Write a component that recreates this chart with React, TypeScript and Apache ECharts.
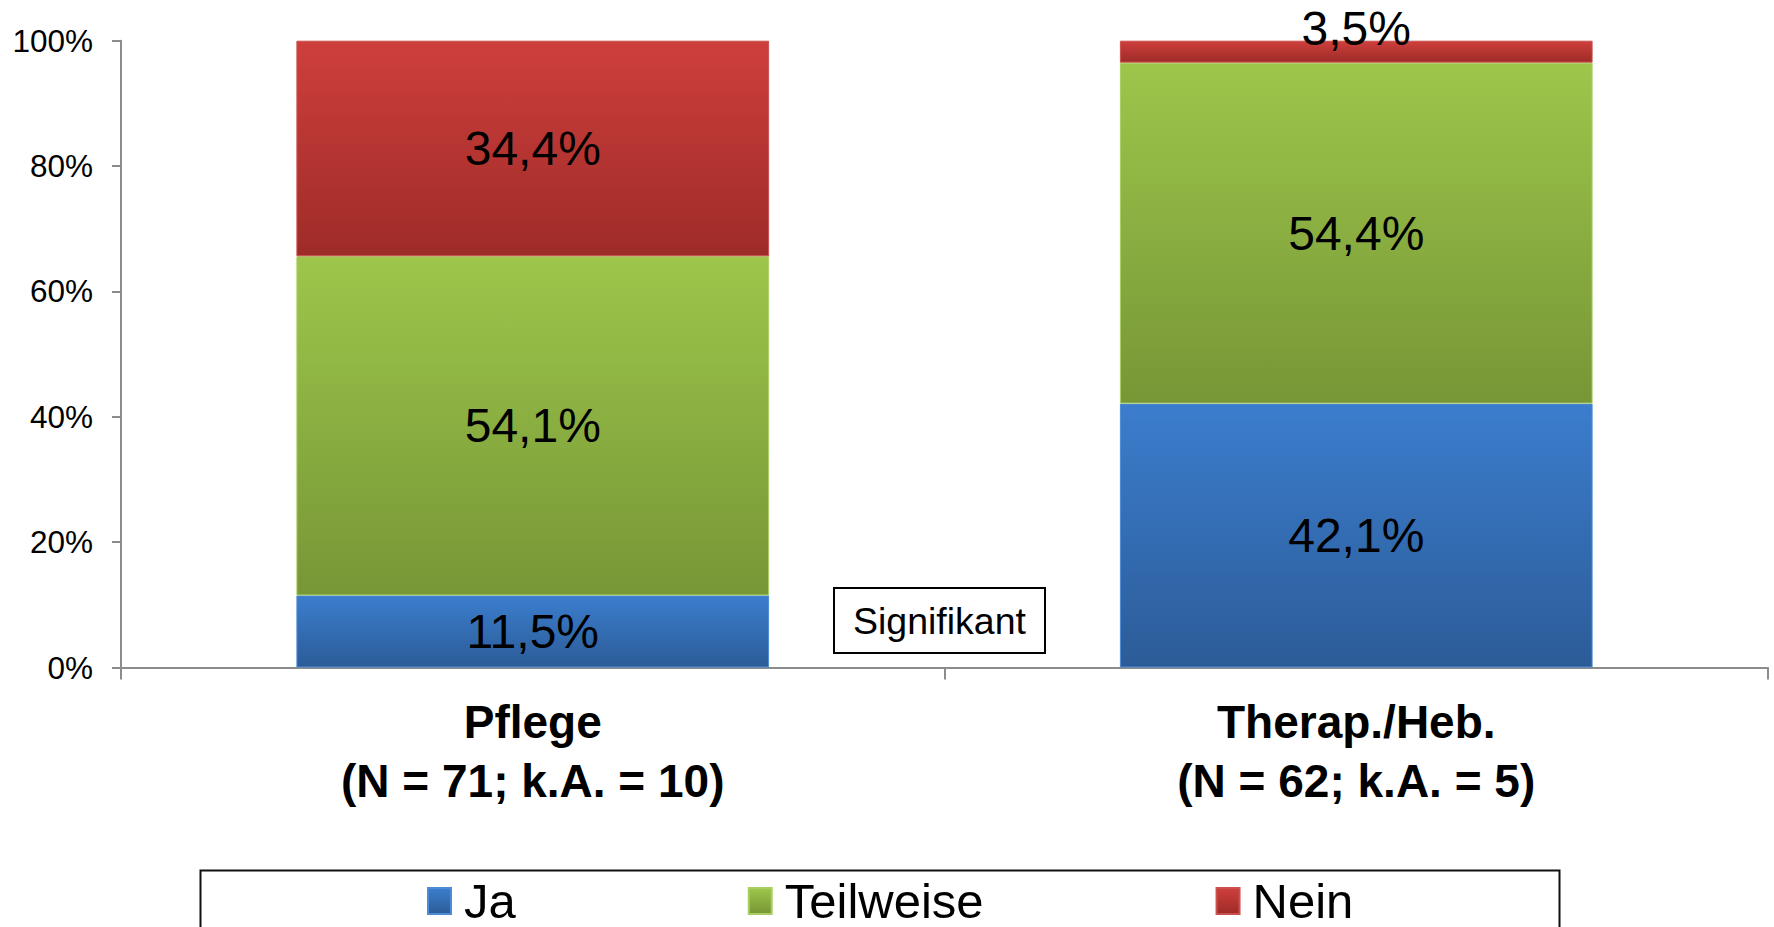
import React, { useEffect, useRef } from "react";
import * as echarts from "echarts";

const categories = ["Pflege\n(N = 71; k.A. = 10)", "Therap./Heb.\n(N = 62; k.A. = 5)"];
const jaValues = [11.5, 42.1];
const teilweiseValues = [54.1, 54.4];
const neinValues = [34.4, 3.5];
const yTicks = [0, 20, 40, 60, 80, 100];
const seriesNames = ["Ja", "Teilweise", "Nein"];
const annotationText = "Signifikant";

const FONT = "'Liberation Sans', Arial, Helvetica, sans-serif";

function grad(top: string, bottom: string) {
  return new echarts.graphic.LinearGradient(0, 0, 0, 1, [
    { offset: 0, color: top },
    { offset: 1, color: bottom },
  ]);
}

const fmt = (v: number) => v.toFixed(1).replace(".", ",") + "%";

export default function App() {
  const ref = useRef<HTMLDivElement>(null);
  useEffect(() => {
    if (!ref.current) return;
    const chart = echarts.init(ref.current, undefined, { renderer: "svg" });
    const labelBase = {
      show: true,
      position: "inside" as const,
      color: "#000",
      fontSize: 48,
      fontFamily: FONT,
      formatter: (p: any) => fmt(Number(p.value)),
    };
    const common = {
      type: "bar" as const,
      stack: "total",
      barCategoryGap: "42.6%",
      label: labelBase,
    };
    chart.setOption({
      animation: false,
      backgroundColor: "#fff",
      textStyle: { fontFamily: FONT },
      grid: { left: 121, right: 6, top: 40.7, bottom: 259.5, containLabel: false },
      xAxis: {
        type: "category",
        data: categories,
        axisLine: { show: true, lineStyle: { color: "#8c8c8c", width: 2 } },
        axisTick: { show: true, length: 12, lineStyle: { color: "#8c8c8c", width: 2 } },
        axisLabel: {
          color: "#000",
          fontSize: 46,
          fontWeight: "bold",
          fontFamily: FONT,
          lineHeight: 59,
          margin: 25,
          interval: 0,
        },
      },
      yAxis: {
        type: "value",
        min: yTicks[0],
        max: yTicks[yTicks.length - 1],
        interval: 20,
        splitLine: { show: false },
        axisLine: { show: true, lineStyle: { color: "#8c8c8c", width: 2 } },
        axisTick: { show: true, inside: false, length: 9, lineStyle: { color: "#8c8c8c", width: 2 } },
        axisLabel: {
          color: "#000",
          fontSize: 31.5,
          fontFamily: FONT,
          margin: 28,
          formatter: "{value}%",
        },
      },
      legend: {
        data: seriesNames,
        left: 422,
        top: 871,
        icon: "rect",
        itemWidth: 23,
        itemHeight: 26,
        itemGap: 232,
        textStyle: {
          color: "#000",
          fontSize: 49,
          fontFamily: FONT,
          lineHeight: 50,
          padding: [0, 0, 0, 8],
        },
      },
      graphic: [
        {
          type: "rect",
          left: 198,
          top: 868,
          shape: { width: 1359, height: 120 },
          style: { fill: "none", stroke: "#111", lineWidth: 2 },
          z: 0,
        },
        {
          type: "group",
          left: 833,
          top: 587,
          children: [
            {
              type: "rect",
              shape: { x: 0, y: 0, width: 211, height: 65 },
              style: { fill: "#fff", stroke: "#000", lineWidth: 2 },
            },
            {
              type: "text",
              x: 105.5,
              y: 33,
              style: {
                text: annotationText,
                fontSize: 37.5,
                fontFamily: FONT,
                fill: "#000",
                align: "center",
                verticalAlign: "middle",
              },
            },
          ],
        },
      ],
      series: [
        {
          ...common,
          name: seriesNames[0],
          data: jaValues,
          itemStyle: { color: grad("#3b7dcd", "#2c5c98"), borderColor: "#4d8bd6", borderWidth: 1 },
        },
        {
          ...common,
          name: seriesNames[1],
          data: teilweiseValues,
          itemStyle: { color: grad("#9dc64b", "#779636"), borderColor: "#a9cf62", borderWidth: 1 },
        },
        {
          ...common,
          name: seriesNames[2],
          data: neinValues.map((v, i) =>
            i === 1 ? { value: v, label: { offset: [0, -23] } } : v
          ),
          itemStyle: { color: grad("#ce3f3c", "#9e2b28"), borderColor: "#c9504c", borderWidth: 1 },
        },
      ],
    });
    return () => chart.dispose();
  }, []);
  return (
    <div
      ref={ref}
      style={{ position: "absolute", left: 0, top: 0, width: 1774, height: 927 }}
    />
  );
}
